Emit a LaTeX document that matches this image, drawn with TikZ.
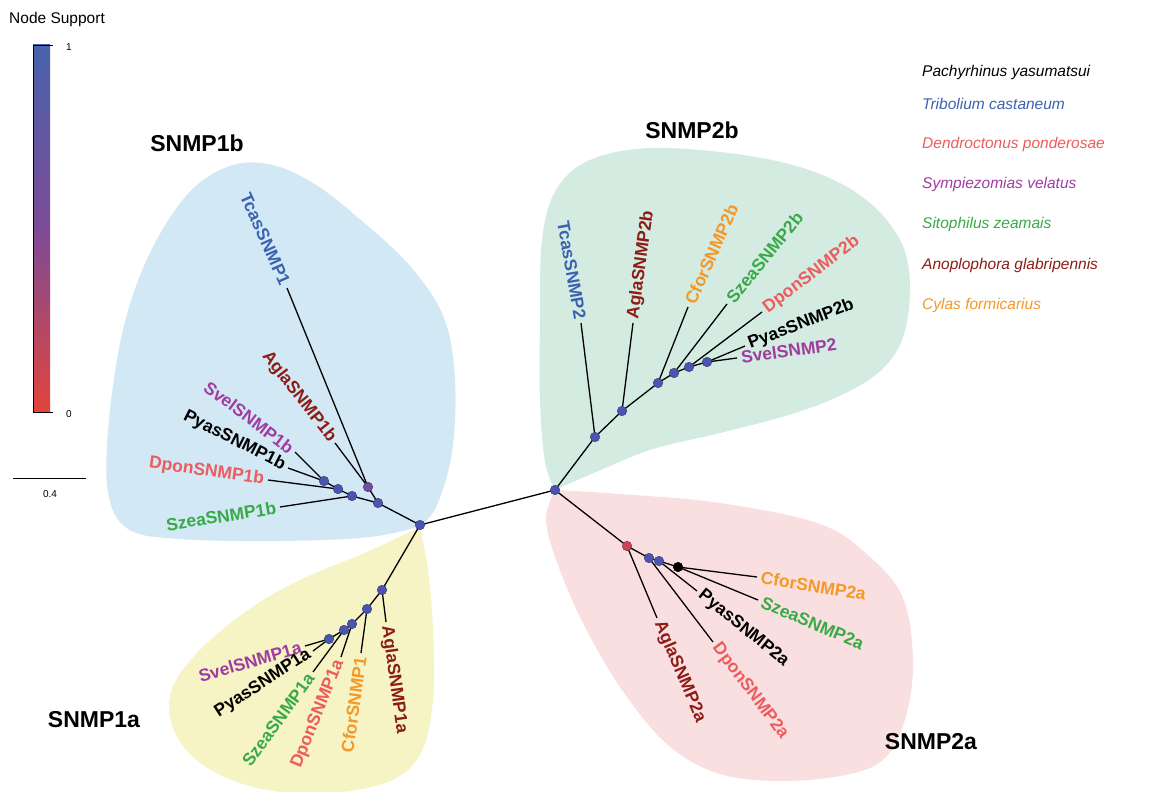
\documentclass[tikz,border=0pt]{standalone}
\usepackage{fontspec}
\setmainfont{Liberation Sans}
\definecolor{cTcas}{RGB}{58,98,176}
\definecolor{cDpon}{RGB}{236,92,92}
\definecolor{cSvel}{RGB}{160,60,160}
\definecolor{cSzea}{RGB}{56,170,72}
\definecolor{cAgla}{RGB}{140,28,22}
\definecolor{cCfor}{RGB}{244,152,40}
\definecolor{cPyas}{RGB}{0,0,0}
\definecolor{fBlue}{RGB}{210,232,245}
\definecolor{fGreen}{RGB}{212,235,226}
\definecolor{fPink}{RGB}{250,223,224}
\definecolor{fYellow}{RGB}{246,243,196}
\definecolor{dotBlue}{RGB}{75,85,175}
\definecolor{dotPurple}{RGB}{115,75,160}
\definecolor{dotRed}{RGB}{200,70,90}
\definecolor{cbBlue}{RGB}{72,98,172}
\definecolor{cbPurple}{RGB}{125,75,150}
\definecolor{cbRed}{RGB}{226,68,60}
\begin{document}
\begin{tikzpicture}[x=1pt,y=-1pt,
  leaf/.style={font=\fontsize{17.5}{20}\selectfont\bfseries, inner xsep=4pt, inner ysep=0pt},
  clade/.style={font=\fontsize{23}{26}\selectfont\bfseries, inner sep=0pt},
  legend/.style={font=\fontsize{15.5}{18}\selectfont\itshape, anchor=west, inner sep=0pt},
  small/.style={font=\fontsize{10}{12}\selectfont, inner sep=0pt},
  branch/.style={line width=1.3pt, black},
  dot/.style={circle, inner sep=0pt, minimum size=9.5pt, fill=dotBlue, draw=dotBlue!70!black, line width=0.5pt}]
\useasboundingbox (0,0) rectangle (1171,792);
\fill[white] (0,0) rectangle (1171,792);

% clade blobs
\fill[fBlue] plot[smooth, tension=0.6] coordinates {(421,526) (370,537) (280,541) (180,539) (128,529) (108,492) (109,420) (123,330) (148,257) (186,196) (227,167) (268,164) (313,183) (362,221) (411,267) (444,318) (455,380) (452,452) (437,505) (421,526)} -- cycle;
\fill[fYellow] plot[smooth, tension=0.6] coordinates {(420,527) (367,552) (300,580) (248,610) (198,652) (171,692) (175,733) (206,767) (262,789) (330,793) (390,781) (421,753) (433,700) (433,630) (428,570) (420,527)} -- cycle;
\fill[fGreen] plot[smooth, tension=0.6] coordinates {(555,490) (545,462) (540,400) (540,320) (542,240) (556,190) (590,160) (653,148) (750,156) (820,174) (870,203) (902,244) (910,290) (902,340) (878,373) (835,398) (785,416) (720,433) (653,449) (603,469) (555,490)} -- cycle;
\fill[fPink] plot[smooth, tension=0.6] coordinates {(555,490) (620,494) (720,503) (820,524) (870,557) (903,598) (913,660) (906,716) (886,757) (850,774) (785,781) (720,774) (668,745) (622,690) (584,625) (558,565) (546,520) (555,490)} -- cycle;

% internal nodes
\coordinate (r1) at (420,525); \coordinate (r2) at (555,490);
\coordinate (b1) at (378,503); \coordinate (b2) at (368,487); \coordinate (b3) at (352,496);
\coordinate (b4) at (338,489); \coordinate (b5) at (324,481);
\coordinate (a1) at (382,590); \coordinate (a2) at (367,609); \coordinate (a3) at (352,624);
\coordinate (a4) at (344,630); \coordinate (a5) at (329,639);
\coordinate (c1) at (595,437); \coordinate (c2) at (622,411); \coordinate (c3) at (658,383);
\coordinate (c4) at (674,373); \coordinate (c5) at (689,367); \coordinate (c6) at (707,362);
\coordinate (d1) at (627,546); \coordinate (d2) at (649,558); \coordinate (d3) at (659,561);
\coordinate (d4) at (678,567);
% leaves
\coordinate (tcas1) at (287,288); \coordinate (agla1b) at (335,443); \coordinate (szea1b) at (280,507);
\coordinate (dpon1b) at (268,480); \coordinate (pyas1b) at (288,468); \coordinate (svel1b) at (295,452);
\coordinate (agla1a) at (386,622); \coordinate (cfor1) at (361,653); \coordinate (dpon1a) at (341,657);
\coordinate (szea1a) at (313,672); \coordinate (pyas1a) at (313,651); \coordinate (svel1a) at (305,646);
\coordinate (tcas2) at (581,323); \coordinate (agla2b) at (633,323); \coordinate (cfor2b) at (688,307);
\coordinate (szea2b) at (727,304); \coordinate (dpon2b) at (762,312); \coordinate (pyas2b) at (745,346);
\coordinate (svel2) at (737,358);
\coordinate (agla2a) at (657,618); \coordinate (dpon2a) at (713,642); \coordinate (pyas2a) at (697,591);
\coordinate (cfor2a) at (757,577); \coordinate (szea2a) at (758,600);

% branches
\draw[branch] (r1) -- (r2);
\draw[branch] (r1) -- (b1); \draw[branch] (b1) -- (b2); \draw[branch] (b2) -- (tcas1); \draw[branch] (b2) -- (agla1b);
\draw[branch] (b1) -- (b3); \draw[branch] (b3) -- (szea1b); \draw[branch] (b3) -- (b4); \draw[branch] (b4) -- (dpon1b);
\draw[branch] (b4) -- (b5); \draw[branch] (b5) -- (pyas1b); \draw[branch] (b5) -- (svel1b);
\draw[branch] (r1) -- (a1); \draw[branch] (a1) -- (agla1a); \draw[branch] (a1) -- (a2); \draw[branch] (a2) -- (cfor1);
\draw[branch] (a2) -- (a3); \draw[branch] (a3) -- (dpon1a); \draw[branch] (a3) -- (a4); \draw[branch] (a4) -- (szea1a);
\draw[branch] (a4) -- (a5); \draw[branch] (a5) -- (pyas1a); \draw[branch] (a5) -- (svel1a);
\draw[branch] (r2) -- (c1); \draw[branch] (c1) -- (tcas2); \draw[branch] (c1) -- (c2); \draw[branch] (c2) -- (agla2b);
\draw[branch] (c2) -- (c3); \draw[branch] (c3) -- (cfor2b); \draw[branch] (c3) -- (c4); \draw[branch] (c4) -- (szea2b);
\draw[branch] (c4) -- (c5); \draw[branch] (c5) -- (dpon2b); \draw[branch] (c5) -- (c6); \draw[branch] (c6) -- (pyas2b);
\draw[branch] (c6) -- (svel2);
\draw[branch] (r2) -- (d1); \draw[branch] (d1) -- (agla2a); \draw[branch] (d1) -- (d2); \draw[branch] (d2) -- (dpon2a);
\draw[branch] (d2) -- (d3); \draw[branch] (d3) -- (pyas2a); \draw[branch] (d3) -- (d4); \draw[branch] (d4) -- (cfor2a);
\draw[branch] (d4) -- (szea2a);

% support dots
\foreach \n in {r1,r2,b1,b3,b4,b5,a1,a2,a3,a4,a5,c1,c2,c3,c4,c5,c6,d2,d3}{\node[dot] (dot\n) at (\n) {};}
\node[dot, fill=dotPurple, draw=dotPurple!70!black] (dotb2) at (b2) {};
\node[dot, fill=dotRed, draw=dotRed!70!black] (dotd1) at (d1) {};
\node[dot, fill=black, draw=black] (dotd4) at (d4) {};

% leaf labels
\node[leaf, cTcas, anchor=east, rotate=-66] (Ltcas1) at (tcas1) {TcasSNMP1};
\node[leaf, cAgla, anchor=east, rotate=-52] (Lagla1b) at (agla1b) {AglaSNMP1b};
\node[leaf, cSvel, anchor=east, rotate=-37] (Lsvel1b) at (svel1b) {SvelSNMP1b};
\node[leaf, cPyas, anchor=east, rotate=-27] (Lpyas1b) at (pyas1b) {PyasSNMP1b};
\node[leaf, cDpon, anchor=east, rotate=-8] (Ldpon1b) at (dpon1b) {DponSNMP1b};
\node[leaf, cSzea, anchor=east, rotate=9] (Lszea1b) at (szea1b) {SzeaSNMP1b};

\node[leaf, cSvel, anchor=east, rotate=16] (Lsvel1a) at (svel1a) {SvelSNMP1a};
\node[leaf, cPyas, anchor=east, rotate=33] (Lpyas1a) at (pyas1a) {PyasSNMP1a};
\node[leaf, cSzea, anchor=east, rotate=54] (Lszea1a) at (szea1a) {SzeaSNMP1a};
\node[leaf, cDpon, anchor=east, rotate=68] (Ldpon1a) at (dpon1a) {DponSNMP1a};
\node[leaf, cCfor, anchor=east, rotate=82] (Lcfor1) at (cfor1) {CforSNMP1};
\node[leaf, cAgla, anchor=west, rotate=-82] (Lagla1a) at (agla1a) {AglaSNMP1a};

\node[leaf, cTcas, anchor=east, rotate=-80] (Ltcas2) at (tcas2) {TcasSNMP2};
\node[leaf, cAgla, anchor=west, rotate=82] (Lagla2b) at (agla2b) {AglaSNMP2b};
\node[leaf, cCfor, anchor=west, rotate=66] (Lcfor2b) at (cfor2b) {CforSNMP2b};
\node[leaf, cSzea, anchor=west, rotate=51] (Lszea2b) at (szea2b) {SzeaSNMP2b};
\node[leaf, cDpon, anchor=west, rotate=37] (Ldpon2b) at (dpon2b) {DponSNMP2b};
\node[leaf, cPyas, anchor=west, rotate=21] (Lpyas2b) at (pyas2b) {PyasSNMP2b};
\node[leaf, cSvel, anchor=west, rotate=8] (Lsvel2) at (svel2) {SvelSNMP2};

\node[leaf, cCfor, anchor=west, rotate=-9] (Lcfor2a) at (cfor2a) {CforSNMP2a};
\node[leaf, cSzea, anchor=west, rotate=-23] (Lszea2a) at (szea2a) {SzeaSNMP2a};
\node[leaf, cPyas, anchor=west, rotate=-39] (Lpyas2a) at (pyas2a) {PyasSNMP2a};
\node[leaf, cDpon, anchor=west, rotate=-53] (Ldpon2a) at (dpon2a) {DponSNMP2a};
\node[leaf, cAgla, anchor=west, rotate=-67] (Lagla2a) at (agla2a) {AglaSNMP2a};

% clade titles
\node[clade] (T1b) at (197,143) {SNMP1b};
\node[clade] (T2b) at (692,130) {SNMP2b};
\node[clade] (T1a) at (94,720) {SNMP1a};
\node[clade] (T2a) at (931,742) {SNMP2a};

% legend
\node[legend, cPyas] (lg1) at (922,72) {Pachyrhinus yasumatsui};
\node[legend, cTcas] (lg2) at (922,104) {Tribolium castaneum};
\node[legend, cDpon] (lg3) at (922,144) {Dendroctonus ponderosae};
\node[legend, cSvel] (lg4) at (922,184) {Sympiezomias velatus};
\node[legend, cSzea] (lg5) at (922,224) {Sitophilus zeamais};
\node[legend, cAgla] (lg6) at (922,265) {Anoplophora glabripennis};
\node[legend, cCfor] (lg7) at (922,305) {Cylas formicarius};

% colour bar
\node[font=\fontsize{15.5}{18}\selectfont, anchor=west, inner sep=0pt] (ns) at (9,19) {Node Support};
\shade[bottom color=cbRed, top color=cbBlue, middle color=cbPurple] (33,45) rectangle (50,412);
\coordinate (cbt0) at (33,45); \coordinate (cbt1) at (53,45);
\coordinate (cbb0) at (33,412); \coordinate (cbb1) at (53,412);
\draw[line width=0.8pt] (cbt1) -- (cbt0) -- (cbb0) -- (cbb1);
\node[small, anchor=west] (one) at (66,47) {1};
\node[small, anchor=west] (zero) at (66,414) {0};

% scale bar
\coordinate (sb0) at (13,478); \coordinate (sb1) at (86,478);
\draw[line width=0.8pt] (sb0) -- (sb1);
\node[small] (sbl) at (50,494) {0.4};
\end{tikzpicture}
\end{document}
